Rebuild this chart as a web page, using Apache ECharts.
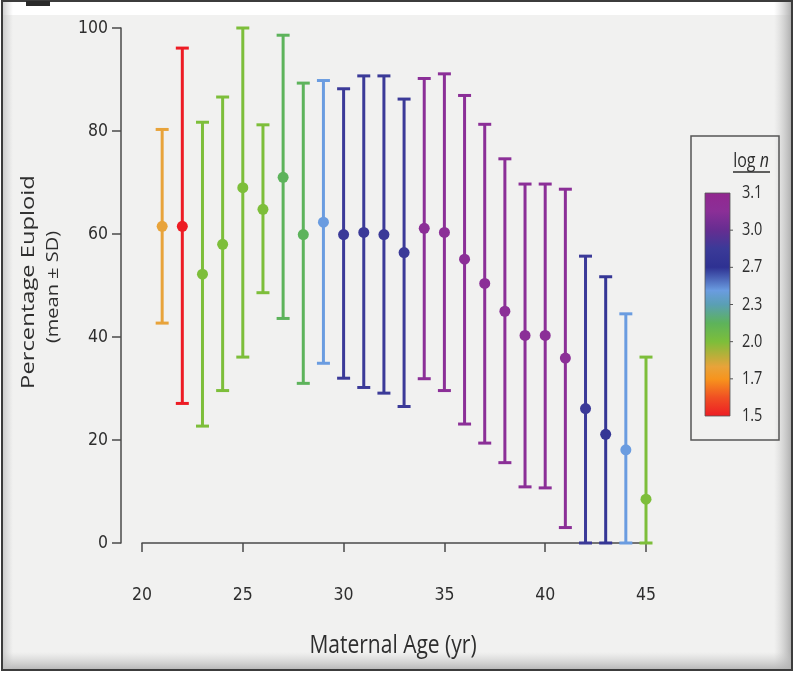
<!DOCTYPE html>
<html>
<head>
<meta charset="utf-8">
<script src="https://cdn.jsdelivr.net/npm/echarts@6/dist/echarts.min.js"></script>
<style>html,body{margin:0;padding:0;background:#fff}#c{width:796px;height:675px}</style>
</head>
<body>
<div id="c"></div>
<script>
// ---- data ----
var ages  = [21,22,23,24,25,26,27,28,29,30,31,32,33,34,35,36,37,38,39,40,41,42,43,44,45];
var means = [61.5,61.5,52.2,58.0,69.0,64.8,71.0,59.9,62.3,59.9,60.3,59.9,56.4,61.1,60.3,55.1,50.4,45.0,40.3,40.3,35.9,26.1,21.1,18.1,8.5];
var upper = [80.3,96.1,81.7,86.6,100,81.2,98.6,89.3,89.8,88.2,90.7,90.7,86.2,90.2,91.1,86.9,81.3,74.6,69.7,69.7,68.7,55.7,51.7,44.5,36.1];
var lower = [42.7,27.1,22.7,29.6,36.1,48.6,43.6,31.0,34.9,32.0,30.2,29.1,26.5,31.9,29.6,23.1,19.4,15.6,10.9,10.7,3.0,0,0,0,0];
var logN  = [1.8,1.5,2.0,2.0,2.0,2.0,2.15,2.15,2.45,2.85,2.85,2.85,2.85,3.05,3.05,3.05,3.05,3.05,3.05,3.05,3.05,2.85,2.78,2.45,2.0];
var colorTicks = [1.5,1.7,2.0,2.3,2.7,3.0,3.1];
var colorTickLabels = ['1.5','1.7','2.0','2.3','2.7','3.0','3.1'];
var xTitle = 'Maternal Age (yr)';
var yTitle = 'Percentage Euploid';
var ySubTitle = '(mean \u00b1 SD)';
var legendTitle = 'log ';
var legendTitleItalic = 'n';

// ---- colour scale (value -> colour) ----
var scaleStops = [
  [1.5,'#ED1C24'],[1.6,'#F04F23'],[1.7,'#F7941D'],[1.8,'#E8A33A'],[2.0,'#7DBE3A'],
  [2.15,'#5DB35B'],[2.3,'#5A9FB4'],[2.45,'#6A9CE0'],[2.7,'#2E3192'],[2.85,'#3B3A98'],
  [3.0,'#662D91'],[3.05,'#8B2F97'],[3.1,'#92278F']
];
function hex2rgb(h){return [parseInt(h.substr(1,2),16),parseInt(h.substr(3,2),16),parseInt(h.substr(5,2),16)];}
function colorFor(v){
  if (v<=scaleStops[0][0]) return scaleStops[0][1];
  for (var i=1;i<scaleStops.length;i++){
    if (v<=scaleStops[i][0]){
      var a=scaleStops[i-1], b=scaleStops[i];
      var t=(v-a[0])/(b[0]-a[0]);
      var ca=hex2rgb(a[1]), cb=hex2rgb(b[1]);
      return 'rgb('+[0,1,2].map(function(k){return Math.round(ca[k]+(cb[k]-ca[k])*t);}).join(',')+')';
    }
  }
  return scaleStops[scaleStops.length-1][1];
}
function barPos(v){
  var n=colorTicks.length-1;
  for (var i=1;i<colorTicks.length;i++){
    if (v<=colorTicks[i]){
      return (i-1+(v-colorTicks[i-1])/(colorTicks[i]-colorTicks[i-1]))/n;
    }
  }
  return 1;
}

var chart = echarts.init(document.getElementById('c'), null, {renderer:'canvas'});
var FONT = "'Open Sans'";
var AXFONT = "'DejaVu Sans Condensed', 'Open Sans'";
var TXT = '#2e2e2e';
var AX = '#4a4a4a';
var VS = 1.25; // vertical stretch of the original artwork's lettering

var data = ages.map(function(a,i){return [a, lower[i], upper[i], means[i], logN[i]];});

var cb = {x:705, y:193, w:25, h:223};
var gradStops = scaleStops.map(function(s){return {offset:1-barPos(s[0]), color:s[1]};}).reverse();
var graphics = [
  {type:'rect', shape:{x:2,y:1,width:790,height:669}, style:{fill:'#F1F1F0', stroke:'#3c3c3c', lineWidth:2}, silent:true, z:-10},
  {type:'rect', shape:{x:3,y:2,width:788,height:13}, style:{fill:'#FFFFFF'}, silent:true, z:-9},
  {type:'rect', shape:{x:26,y:1,width:24,height:5}, style:{fill:'#2a2a2a'}, silent:true, z:-8},
  {type:'rect', shape:{x:774,y:2,width:17,height:667}, style:{fill:new echarts.graphic.LinearGradient(0,0,1,0,[{offset:0,color:'rgba(200,200,200,0)'},{offset:1,color:'rgba(170,170,170,0.9)'}])}, silent:true, z:-8},
  {type:'rect', shape:{x:3,y:652,width:788,height:17}, style:{fill:new echarts.graphic.LinearGradient(0,0,0,1,[{offset:0,color:'rgba(200,200,200,0)'},{offset:1,color:'rgba(180,180,180,0.9)'}])}, silent:true, z:-8},
  {type:'rect', shape:{x:3,y:2,width:10,height:667}, style:{fill:new echarts.graphic.LinearGradient(0,0,1,0,[{offset:0,color:'rgba(190,190,190,0.7)'},{offset:1,color:'rgba(200,200,200,0)'}])}, silent:true, z:-8},
  {type:'text', x:29, y:282, rotation:Math.PI/2, scaleX:VS, style:{text:yTitle, font:'19px '+FONT, fill:TXT, align:'center', verticalAlign:'middle'}, silent:true},
  {type:'text', x:53, y:287, rotation:Math.PI/2, scaleX:VS, style:{text:ySubTitle, font:'16px '+FONT, fill:TXT, align:'center', verticalAlign:'middle'}, silent:true},
  {type:'text', x:393, y:646, scaleY:VS, style:{text:xTitle, font:'21px '+FONT, fill:TXT, align:'center', verticalAlign:'middle'}, silent:true},
  {type:'rect', shape:{x:691,y:136,width:88,height:304}, style:{fill:'none', stroke:'#555', lineWidth:1.5}, silent:true},
  {type:'text', x:751, y:161, scaleY:VS, style:{text:'{a|'+legendTitle+'}{b|'+legendTitleItalic+'}', align:'center', verticalAlign:'middle', rich:{a:{font:'16px '+FONT, fill:TXT}, b:{font:'italic 16px '+FONT, fill:TXT}}}, silent:true},
  {type:'line', shape:{x1:733,y1:172,x2:770,y2:172}, style:{stroke:TXT, lineWidth:1.5}, silent:true},
  {type:'rect', shape:{x:cb.x,y:cb.y,width:cb.w,height:cb.h}, style:{fill:new echarts.graphic.LinearGradient(0,0,0,1,gradStops), stroke:'#555', lineWidth:0.8}, silent:true}
];
colorTicks.forEach(function(v,i){
  var yy = cb.y + cb.h*(1-barPos(v));
  if (i>0 && i<colorTicks.length-1) graphics.push({type:'line', shape:{x1:cb.x+cb.w,y1:yy,x2:cb.x+cb.w+3,y2:yy}, style:{stroke:'#555',lineWidth:1}, silent:true});
  graphics.push({type:'text', x:742, y:yy, scaleY:VS, style:{text:colorTickLabels[i], font:'14.5px '+FONT, fill:TXT, align:'left', verticalAlign:'middle'}, silent:true});
});

var option = {
  backgroundColor:'#ffffff',
  animation:false,
  grid:{left:142, right:150, top:28, bottom:132, containLabel:false},
  xAxis:{type:'value', min:20, max:45, interval:5, offset:22,
    axisLine:{show:true, lineStyle:{color:AX, width:1.5}},
    axisTick:{show:true, length:9, lineStyle:{color:AX, width:1.5}},
    axisLabel:{margin:21, fontFamily:AXFONT, fontSize:17.5, color:TXT},
    splitLine:{show:false}},
  yAxis:{type:'value', min:0, max:100, interval:20, offset:21,
    axisLine:{show:true, lineStyle:{color:AX, width:1.5}},
    axisTick:{show:true, length:9, lineStyle:{color:AX, width:1.5}},
    axisLabel:{margin:13, fontFamily:AXFONT, fontSize:17.5, color:TXT},
    splitLine:{show:false}},
  graphic:graphics,
  series:[{
    type:'custom',
    clip:false,
    data:data,
    encode:{x:0, y:[1,2,3]},
    renderItem:function(params, api){
      var x=api.value(0), lo=api.value(1), hi=api.value(2), m=api.value(3);
      var c=colorFor(api.value(4));
      var pHi=api.coord([x,hi]), pLo=api.coord([x,lo]), pM=api.coord([x,m]);
      var hw=6.5;
      return {type:'group', children:[
        {type:'line', shape:{x1:pHi[0],y1:pHi[1],x2:pLo[0],y2:pLo[1]}, style:{stroke:c, lineWidth:3}},
        {type:'line', shape:{x1:pHi[0]-hw,y1:pHi[1],x2:pHi[0]+hw,y2:pHi[1]}, style:{stroke:c, lineWidth:3}},
        {type:'line', shape:{x1:pLo[0]-hw,y1:pLo[1],x2:pLo[0]+hw,y2:pLo[1]}, style:{stroke:c, lineWidth:3}},
        {type:'circle', shape:{cx:pM[0], cy:pM[1], r:5.5}, style:{fill:c}}
      ]};
    }
  }]
};
chart.setOption(option);
</script>
</body>
</html>
